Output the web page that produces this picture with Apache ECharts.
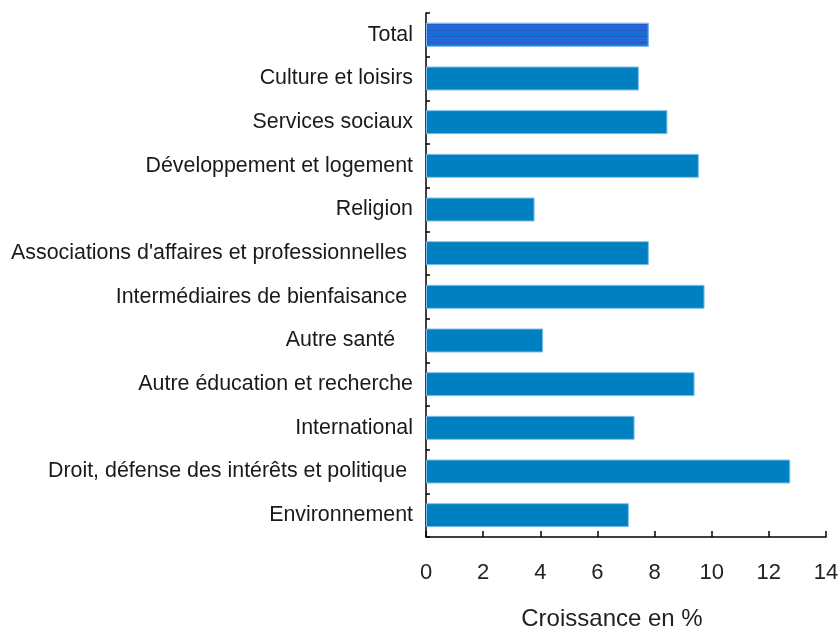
<!DOCTYPE html>
<html>
<head>
<meta charset="utf-8">
<script src="https://cdn.jsdelivr.net/npm/echarts@6/dist/echarts.min.js"></script>
<style>
html,body{margin:0;padding:0;background:#fff;overflow:hidden;}
#chart{width:838px;height:628px;}
</style>
</head>
<body>
<div id="chart"></div>
<script>
const categories = [
  "Total",
  "Culture et loisirs",
  "Services sociaux",
  "Développement et logement",
  "Religion",
  "Associations d'affaires et professionnelles ",
  "Intermédiaires de bienfaisance ",
  "Autre santé   ",
  "Autre éducation et recherche",
  "International",
  "Droit, défense des intérêts et politique ",
  "Environnement"
];
const growth = [7.8, 7.45, 8.45, 9.55, 3.8, 7.8, 9.75, 4.1, 9.4, 7.3, 12.75, 7.1];
const xTicks = [0, 2, 4, 6, 8, 10, 12, 14];
const xAxisName = "Croissance en %";

const font = "'Liberation Sans', Arial, sans-serif";
const chart = echarts.init(document.getElementById('chart'), null, {renderer: 'canvas', width: 838, height: 628});

const seriesData = growth.map((v, i) => {
  if (i === 0) {
    return {
      value: v,
      itemStyle: {
        color: '#1a6fd4',
        borderColor: '#7fb8ea',
        borderWidth: 1,
        decal: {
          symbol: 'rect',
          symbolSize: 1,
          color: 'rgba(90,50,190,0.75)',
          dashArrayX: [[0, 1, 1, 2], [2, 1, 1, 0]],
          dashArrayY: [1, 1.5],
          rotation: 0
        }
      }
    };
  }
  return v;
});

chart.setOption({
  animation: false,
  backgroundColor: '#ffffff',
  grid: {left: 426, right: 12, top: 13, bottom: 91, containLabel: false, outerBoundsMode: 'none'},
  xAxis: {
    type: 'value',
    min: xTicks[0],
    max: xTicks[xTicks.length - 1],
    interval: 2,
    name: xAxisName,
    nameLocation: 'middle',
    nameGap: 70,
    nameMoveOverlap: false,
    nameTextStyle: {fontFamily: font, fontSize: 24, color: '#222', padding: [0, 28, 0, 0]},
    axisLine: {show: true, lineStyle: {color: '#000', width: 1.5}},
    axisTick: {show: true, inside: true, length: 6, lineStyle: {color: '#000', width: 1.5}},
    axisLabel: {fontFamily: font, fontSize: 22, color: '#222', margin: 25},
    splitLine: {show: false}
  },
  yAxis: {
    type: 'category',
    data: categories,
    inverse: true,
    axisLine: {show: true, lineStyle: {color: '#000', width: 1.5}},
    axisTick: {show: true, inside: true, length: 4, alignWithLabel: false, lineStyle: {color: '#000', width: 1.5}},
    axisLabel: {fontFamily: font, fontSize: 21.4, color: '#1a1a1a', margin: 13},
    splitLine: {show: false}
  },
  series: [{
    type: 'bar',
    data: seriesData,
    barWidth: 24,
    itemStyle: {color: '#0080c0', borderColor: '#80c0e8', borderWidth: 1}
  }]
});
</script>
</body>
</html>
